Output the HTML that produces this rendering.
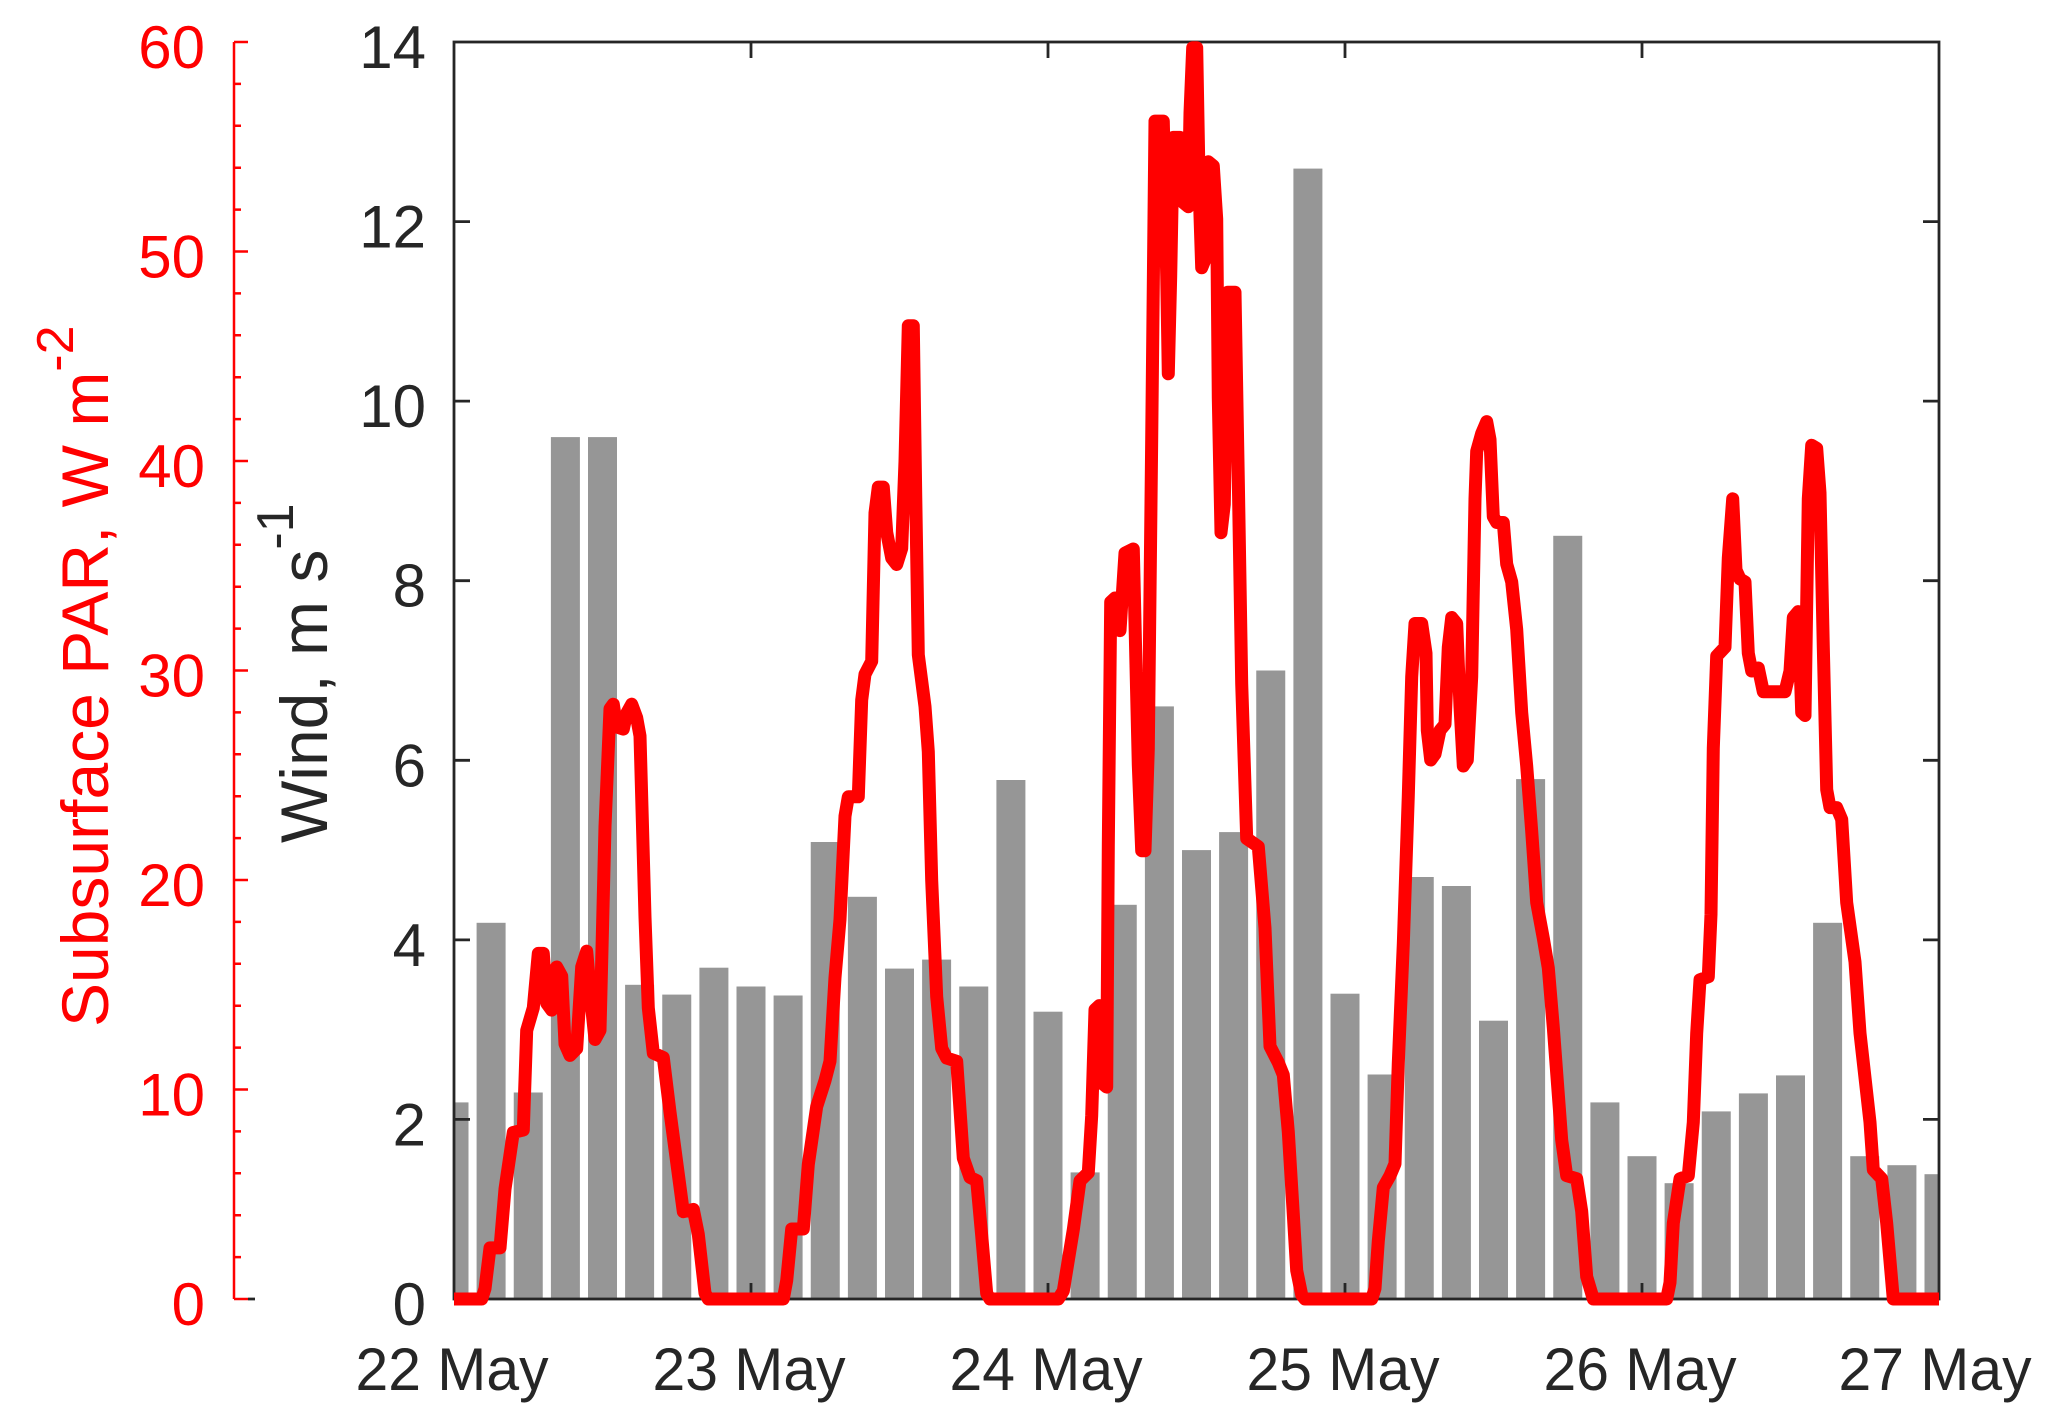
<!DOCTYPE html>
<html>
<head>
<meta charset="utf-8">
<style>
html,body{margin:0;padding:0;background:#ffffff;}
svg{display:block;}
text{font-family:"Liberation Sans", Arial, Helvetica, sans-serif;}
</style>
</head>
<body>
<svg xmlns="http://www.w3.org/2000/svg" width="2067" height="1426" viewBox="0 0 2067 1426">
<rect x="0" y="0" width="2067" height="1426" fill="#ffffff"/>
<g fill="#969696">
<rect x="454" y="1102.4" width="14.5" height="196.6"/>
<rect x="476.6" y="922.8" width="29" height="376.2"/>
<rect x="513.75" y="1092.5" width="29" height="206.5"/>
<rect x="550.9" y="437.1" width="29" height="861.9"/>
<rect x="588.0" y="437.1" width="29" height="861.9"/>
<rect x="625.1" y="984.8" width="29" height="314.2"/>
<rect x="662.25" y="994.6" width="29" height="304.4"/>
<rect x="699.4" y="967.7" width="29" height="331.3"/>
<rect x="736.5" y="986.5" width="29" height="312.5"/>
<rect x="773.6" y="995.5" width="29" height="303.5"/>
<rect x="810.75" y="842.0" width="29" height="457"/>
<rect x="847.9" y="896.8" width="29" height="402.2"/>
<rect x="885.0" y="968.6" width="29" height="330.4"/>
<rect x="922.1" y="959.6" width="29" height="339.4"/>
<rect x="959.25" y="986.5" width="29" height="312.5"/>
<rect x="996.4" y="780.0" width="29" height="519"/>
<rect x="1033.5" y="1011.7" width="29" height="287.3"/>
<rect x="1070.6" y="1172.4" width="29" height="126.6"/>
<rect x="1107.75" y="904.8" width="29" height="394.2"/>
<rect x="1144.9" y="706.4" width="29" height="592.6"/>
<rect x="1182.0" y="850.1" width="29" height="448.9"/>
<rect x="1219.1" y="832.1" width="29" height="466.9"/>
<rect x="1256.25" y="670.5" width="29" height="628.5"/>
<rect x="1293.4" y="168.6" width="29" height="1130.4"/>
<rect x="1330.5" y="993.7" width="29" height="305.3"/>
<rect x="1367.6" y="1074.5" width="29" height="224.5"/>
<rect x="1404.75" y="877.0" width="29" height="422"/>
<rect x="1441.9" y="886.0" width="29" height="413"/>
<rect x="1479.0" y="1020.7" width="29" height="278.3"/>
<rect x="1516.1" y="779.1" width="29" height="519.9"/>
<rect x="1553.25" y="535.8" width="29" height="763.2"/>
<rect x="1590.4" y="1102.4" width="29" height="196.6"/>
<rect x="1627.5" y="1156.2" width="29" height="142.8"/>
<rect x="1664.6" y="1183.2" width="29" height="115.8"/>
<rect x="1701.75" y="1111.4" width="29" height="187.6"/>
<rect x="1738.9" y="1093.4" width="29" height="205.6"/>
<rect x="1776.0" y="1075.4" width="29" height="223.6"/>
<rect x="1813.1" y="922.8" width="29" height="376.2"/>
<rect x="1850.25" y="1156.2" width="29" height="142.8"/>
<rect x="1887.4" y="1165.2" width="29" height="133.8"/>
<rect x="1924.5" y="1174.2" width="14.5" height="124.8"/>
</g>
<g stroke="#262626" stroke-width="2.8" fill="none">
<rect x="454" y="42" width="1485" height="1257"/>
<path d="M454 1119.4H470 M454 939.9H470 M454 760.3H470 M454 580.7H470 M454 401.1H470 M454 221.6H470 M1939 1119.4H1923 M1939 939.9H1923 M1939 760.3H1923 M1939 580.7H1923 M1939 401.1H1923 M1939 221.6H1923 M751 1299V1283 M1048 1299V1283 M1345 1299V1283 M1642 1299V1283 M751 42V58 M1048 42V58 M1345 42V58 M1642 42V58 M248 1299H255"/>
</g>
<g stroke="#ff0000" stroke-width="2.5" fill="none">
<path d="M234 42V1299 M234 1299H248 M234 1257.1H241 M234 1215.2H241 M234 1173.3H241 M234 1131.4H241 M234 1089.5H248 M234 1047.6H241 M234 1005.7H241 M234 963.8H241 M234 921.9H241 M234 880H248 M234 838.1H241 M234 796.2H241 M234 754.3H241 M234 712.4H241 M234 670.5H248 M234 628.6H241 M234 586.7H241 M234 544.8H241 M234 502.9H241 M234 461H248 M234 419.1H241 M234 377.2H241 M234 335.3H241 M234 293.4H241 M234 251.5H248 M234 209.6H241 M234 167.7H241 M234 125.8H241 M234 83.9H241 M234 42H248"/>
</g>
<g fill="#ff0000" font-size="60" text-anchor="end">
<text x="205" y="68">60</text>
<text x="205" y="277.5">50</text>
<text x="205" y="487">40</text>
<text x="205" y="696.5">30</text>
<text x="205" y="906">20</text>
<text x="205" y="1115.5">10</text>
<text x="205" y="1325">0</text>
</g>
<g fill="#262626" font-size="60" text-anchor="end">
<text x="426" y="68">14</text>
<text x="426" y="247.6">12</text>
<text x="426" y="427.1">10</text>
<text x="426" y="606.7">8</text>
<text x="426" y="786.3">6</text>
<text x="426" y="965.9">4</text>
<text x="426" y="1145.4">2</text>
<text x="426" y="1325">0</text>
</g>
<g fill="#262626" font-size="60" text-anchor="middle">
<text x="452" y="1390" textLength="193" lengthAdjust="spacingAndGlyphs">22 May</text>
<text x="749" y="1390" textLength="193" lengthAdjust="spacingAndGlyphs">23 May</text>
<text x="1046" y="1390" textLength="193" lengthAdjust="spacingAndGlyphs">24 May</text>
<text x="1343" y="1390" textLength="193" lengthAdjust="spacingAndGlyphs">25 May</text>
<text x="1640" y="1390" textLength="193" lengthAdjust="spacingAndGlyphs">26 May</text>
<text x="1935" y="1390" textLength="193" lengthAdjust="spacingAndGlyphs">27 May</text>
</g>
<text transform="translate(108,1027) rotate(-90)" fill="#ff0000" font-size="66">Subsurface PAR, W m<tspan font-size="52" dy="-35">-2</tspan></text>
<text transform="translate(327,843) rotate(-90)" fill="#262626" font-size="66">Wind, m s<tspan font-size="52" dy="-34">-1</tspan></text>
<polyline fill="none" stroke="#ff0000" stroke-width="13" stroke-linejoin="round" stroke-linecap="butt" points="454,1299 481.7,1299 485,1288.7 490,1247.9 500,1247.9 505,1189 513.3,1132.4 523.3,1130.1 526.7,1030.4 533.3,1007.8 538.3,953.4 543.3,953.4 546.7,1003.3 551.7,1010.1 556.7,967 561.7,976.1 565,1044 570,1055.4 576.7,1048.6 581.7,967 586.7,951.2 591.7,1007.8 595,1039.5 600,1030.4 605,826.6 610,708.7 613.3,704.2 616.7,726.9 623.3,729.1 626.7,713.3 631.7,704.2 636.7,717.8 640,735.9 645,917.2 648.3,1007.8 653.3,1053.1 663.3,1057.6 670,1112 683.3,1211.7 693.3,1209.4 698.3,1234.3 705,1293.2 708.3,1299 783.3,1299 786.7,1280.6 791.7,1229 803.3,1229 808.3,1164.5 816.7,1106.5 825,1080.6 830,1061.3 835,977.4 840,919.4 845,816.1 848.3,796.8 858.3,796.8 861.7,700 865,674.2 871.7,661.3 875,512.9 878.3,487.1 883.3,487.1 886.7,532.3 891.7,558.1 896.7,564.5 901.7,548.4 905,461.3 908.3,325.8 913.3,325.8 915.7,493.5 918.3,654.8 925,706.5 928.3,751.6 931.7,880.6 936.7,996.8 941.7,1048.4 946.7,1058.1 956.7,1061.3 963.3,1158.1 970,1177.4 976.7,1180.6 981.7,1235.5 986.7,1293.5 990,1299 1058.3,1299 1063.3,1290.9 1073.3,1229.7 1080,1180.8 1088.3,1172.7 1091.7,1115.6 1095,1009.6 1099.3,1005.6 1101.7,1083 1106.7,1087.1 1108.3,846.6 1110.7,602 1115,598 1120,630.6 1125,553.1 1133.3,549 1138.3,765.1 1141.7,850.7 1145,850.7 1148.3,748.8 1151.7,439 1155,121.1 1163.3,121.1 1166.7,276 1168.3,373.8 1170.7,276 1173.3,137.4 1180,137.4 1183.3,202.6 1188.3,206.7 1190,112.9 1192.7,47.7 1196.7,47.7 1199.3,194.4 1201.7,267.8 1205,259.7 1208.3,161.8 1213.3,165.9 1216.7,218.9 1218.3,398.2 1221,532.7 1224.3,504.2 1227.7,292.3 1235,292.3 1238.3,479.8 1241.7,683.6 1246.7,838.5 1258.3,846.6 1265,928.1 1270,1046.3 1278.3,1062.6 1283.3,1074.9 1288.3,1131.9 1296.7,1270.5 1301.7,1294.9 1305,1299 1371.7,1299 1375,1288.5 1378.3,1241 1383.3,1187.6 1390,1175.7 1395,1163.8 1398.3,1062.9 1403.3,944.1 1408.3,795.7 1411.7,676.9 1415,623.5 1421.7,623.5 1426,653.2 1427.3,730.4 1430.7,760 1435,754.1 1440,730.4 1445,724.4 1448.3,647.2 1451.7,617.5 1456.7,623.5 1460,706.6 1463.3,766 1467.3,760 1471.7,676.9 1475,498.8 1476.7,451.3 1481.7,433.4 1486.7,421.6 1490,439.4 1493.3,516.6 1496.7,522.5 1503.3,522.5 1506.7,564.1 1511.7,581.9 1516.7,629.4 1521.7,712.5 1526.7,766 1531.7,831.3 1536.7,902.6 1543.3,938.2 1548.3,967.9 1553.3,1027.3 1561.7,1140.1 1566.7,1175.7 1576.7,1178.7 1581.7,1211.4 1586.7,1276.7 1593.3,1299 1666.7,1299 1670,1282.6 1673.3,1223.2 1680,1178.7 1688.3,1175.7 1693.3,1122.3 1696.7,1033.2 1700,979.8 1708.3,976.8 1711,914.5 1713.3,748.2 1716.7,656.1 1725,647.2 1728.3,558.1 1732.7,498.8 1736,570 1740,578.9 1745,581.9 1748.3,653.2 1751.7,671 1758.3,668 1763.3,691.8 1785,691.8 1790,671 1793.3,617.5 1798.3,611.6 1801.7,712.5 1805,715.5 1808.3,498.8 1811.7,445.3 1816.7,448.3 1820,492.8 1823.3,647.2 1826.7,789.7 1830,807.6 1836.7,807.6 1841.7,819.4 1846.7,902.6 1855,961.9 1860,1033.2 1870,1122.3 1873.3,1169.8 1881.7,1178.7 1886.7,1223.2 1893.3,1299 1939,1299"/>
</svg>
</body>
</html>
